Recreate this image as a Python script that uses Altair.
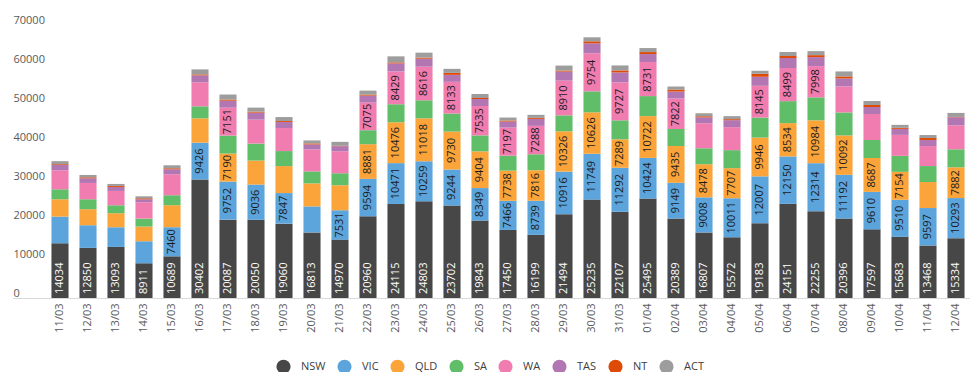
import altair as alt
import pandas as pd

dates = ["11/03", "12/03", "13/03", "14/03", "15/03", "16/03", "17/03", "18/03", "19/03", "20/03",
         "21/03", "22/03", "23/03", "24/03", "25/03", "26/03", "27/03", "28/03", "29/03", "30/03",
         "31/03", "01/04", "02/04", "03/04", "04/04", "05/04", "06/04", "07/04", "08/04", "09/04",
         "10/04", "11/04", "12/04"]

states = ["NSW", "VIC", "QLD", "SA", "WA", "TAS", "NT", "ACT"]

nsw = [14034, 12850, 13093, 8911, 10689, 30402, 20087, 20050, 19060, 16813, 14970, 20960, 24115, 24803,
       23702, 19843, 17450, 16199, 21494, 25235, 22107, 25495, 20389, 16807, 15572, 19183, 24151, 22255,
       20396, 17597, 15683, 13468, 15334]
vic = [6840, 5810, 5050, 5640, 7460, 9426, 9752, 9036, 7847, 6670, 7531, 9594, 10471, 10259, 9244, 8349,
       7466, 8739, 10916, 11749, 11292, 10424, 9149, 9008, 10011, 12007, 12150, 12314, 11192, 9610, 9510,
       9597, 10293]
qld = [4440, 4100, 3590, 3760, 5640, 6240, 7190, 6150, 6920, 5900, 6410, 8881, 10476, 11018, 9730, 9404,
       7738, 7816, 10326, 10626, 7289, 10722, 9435, 8478, 7707, 9946, 8534, 10984, 10092, 8687, 7154,
       6670, 7882]
sa = [2560, 2560, 2050, 2050, 2560, 3080, 4620, 4360, 3850, 3080, 3080, 3590, 4620, 4620, 4620, 4100,
      3850, 4100, 4100, 5380, 4870, 5130, 4360, 4100, 4620, 5130, 5640, 5900, 5900, 4620, 4100, 4100, 4620]
wa = [4870, 4180, 3670, 4190, 5380, 6150, 7151, 6150, 5900, 5640, 5640, 7075, 8429, 8616, 8133, 7535,
      7197, 7288, 8910, 9754, 9727, 8731, 7822, 6410, 5900, 8145, 8499, 7998, 6670, 6670, 5380, 5130, 6150]
tas = [1370, 1200, 1030, 770, 1280, 1790, 1790, 1790, 1540, 1280, 1280, 1790, 2050, 2050, 1790, 1790,
       1540, 1790, 2310, 2560, 2560, 2050, 1790, 1540, 1790, 2310, 2560, 2310, 2050, 1790, 1540, 1540, 2050]
nt = [200, 250, 250, 250, 250, 250, 300, 250, 250, 250, 100, 260, 260, 260, 510, 260, 260, 260, 260, 510,
      510, 510, 510, 260, 260, 770, 510, 510, 510, 510, 260, 510, 100]
act = [770, 600, 510, 510, 770, 1280, 1280, 1030, 1030, 770, 1030, 1030, 1540, 1280, 1030, 1030, 770, 770,
       1280, 1030, 1280, 1030, 770, 770, 770, 770, 1030, 1030, 1280, 1030, 770, 770, 1030]

y_ticks = [0, 10000, 20000, 30000, 40000, 50000, 60000, 70000]

colors = ["#474747", "#5ba4dc", "#faa43a", "#60bd68", "#f17cb0", "#b276b2", "#dd4b06", "#9d9d9d"]

series = [nsw, vic, qld, sa, wa, tas, nt, act]
rows = []
for k, (st, vals) in enumerate(zip(states, series)):
    for d, v in zip(dates, vals):
        rows.append({"date": d, "state": st, "value": v, "k": k})
df = pd.DataFrame(rows)

W, H = 924, 273
FONT = "Open Sans"

base = alt.Chart(df).transform_stack(
    stack="value", groupby=["date"], as_=["y0", "y1"],
    sort=[alt.SortField("k", order="ascending")]
)

x_axis = alt.Axis(labelAngle=270, labelAlign="right", labelBaseline="middle",
                  labelPadding=5, ticks=False, tickSize=0, domain=False,
                  labelOverlap=False,
                  labelFontSize=11, labelColor="#595959", labelFont=FONT)
x_scale = alt.Scale(paddingInner=0.39, paddingOuter=0.195)

y_axis = alt.Axis(values=y_ticks, format="d", grid=False, domain=False, ticks=False, tickSize=0,
                  labelOverlap=False, labelAlign="left", labelPadding=33, labelBaseline="middle",
                  labelOffset=-5, labelFontSize=11, labelColor="#595959", labelFont=FONT)
y_scale = alt.Scale(domain=[0, 70000], nice=False)


def xenc():
    return alt.X("date:N", sort=dates, title=None, scale=x_scale, axis=x_axis)


def yenc(field):
    return alt.Y(field, scale=y_scale, title=None, axis=y_axis)


bars = base.mark_bar().encode(
    x=xenc(),
    y=yenc("y0:Q"),
    y2="y1:Q",
    color=alt.Color("state:N", scale=alt.Scale(domain=states, range=colors),
                    legend=alt.Legend(title=None, orient="none", direction="horizontal",
                                      legendX=230, legendY=334, symbolType="circle",
                                      symbolSize=200, symbolStrokeWidth=0, labelFontSize=11,
                                      labelFont=FONT, labelColor="#404040", labelOffset=10,
                                      columnPadding=11, padding=0)),
)

nsw_labels = base.transform_filter("datum.state == 'NSW'").mark_text(
    angle=270, align="left", baseline="middle", dx=4, fontSize=11, font=FONT, color="white"
).encode(
    x=xenc(),
    y=yenc("y0:Q"),
    text=alt.Text("value:Q", format="d"),
)

other_labels = base.transform_filter(
    "datum.state != 'NSW' && datum.value >= 7000"
).transform_calculate(mid="(datum.y0 + datum.y1) / 2").mark_text(
    angle=270, align="center", baseline="middle", fontSize=11, font=FONT, color="#1a1a1a"
).encode(
    x=xenc(),
    y=yenc("mid:Q"),
    text=alt.Text("value:Q", format="d"),
)

axis_line = alt.Chart(pd.DataFrame({"a": [0]})).mark_rule(color="#d9d9d9", strokeWidth=1).encode(
    x=alt.value(-33), x2=alt.value(W), y=alt.value(H + 0.5)
)

chart = alt.layer(bars, nsw_labels, other_labels, axis_line).properties(
    width=W, height=H,
    padding={"left": 38, "top": 17, "right": 2, "bottom": 74},
    autosize=alt.AutoSizeParams(type="none"),
    background="white",
).configure_view(strokeWidth=0, stroke="transparent")

chart.save("out.html", embed_options={"renderer": "svg", "actions": False})
